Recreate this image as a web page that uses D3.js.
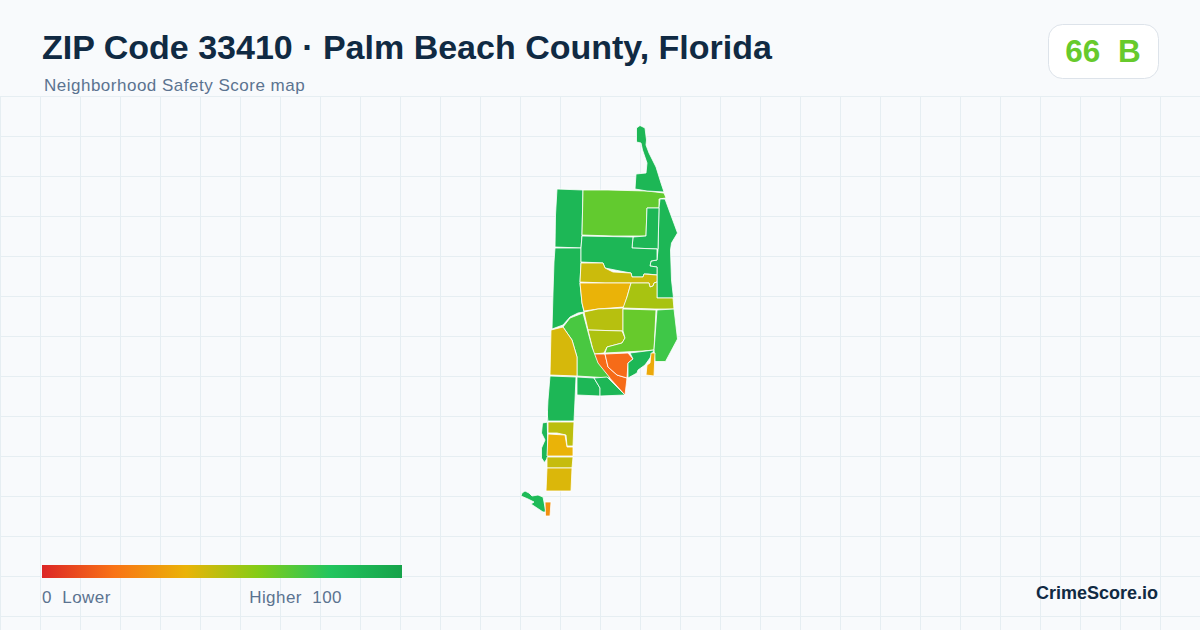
<!DOCTYPE html>
<html><head><meta charset="utf-8">
<style>
html,body{margin:0;padding:0;background:#f8fafc;}
svg{display:block;font-family:"Liberation Sans",Arial,sans-serif;}
text{white-space:pre;}
</style>
<script src="https://cdn.jsdelivr.net/npm/d3@7"></script>
</head><body><svg id="c" width="1200" height="630"></svg>
<script>
const titleText = "ZIP Code 33410 · Palm Beach County, Florida";
const subtitleText = "Neighborhood Safety Score map";
const overallScore = 66;
const overallGrade = "B";
const legendStops = [0, 20, 40, 60, 80, 100];
const legendColors = ["#dc2626", "#f97316", "#eab308", "#84cc16", "#22c55e", "#16a34a"];
const legendLabels = ["0  Lower", "Higher  100"];
const brand = "CrimeScore.io";

// neighbourhood scores
const blockScores = [88, 88, 67, 88, 88, 88, 88, 46, 40, 53, 50, 52, 66, 74, 18, 18, 88, 37, 72, 44, 88, 88, 88, 88, 49, 40, 47, 43, 86, 29];
// neighbourhood outlines in map units
const blockOutlines = [
 [[57,69],[83,70],[82,115],[81,128],[55,127],[55.5,95]],
 [[55,128],[81,128],[81,142],[80,163],[82,183],[84,192],[78,193],[70,197],[63,205],[52,209],[53,173],[54,142]],
 [[83,70],[108,70],[147,71],[164,73],[166,78],[159,79],[159,88],[147,88],[146,116],[113,116],[82,115]],
 [[140,5.5],[145,8],[146.5,20],[146,25],[149,33],[156,47],[161,63],[164,72],[147,71],[135,69],[136,54],[146,53],[147,43],[142.5,30],[141,23],[136.5,22],[136.5,8]],
 [[160,79],[165,79],[177.5,113],[171.5,123],[170.5,130],[171.5,160],[173.5,178],[157,178],[157,160],[157,147],[150,146],[151,141],[157,140],[158,130],[159,88]],
 [[147,88],[159,88],[158,129],[132,128],[133,117],[146,116]],
 [[82,116],[133,117],[132,128],[157,129],[157,140],[151,141],[150,146],[157,147],[157,155],[148,154],[144,154],[143,157],[132,157],[131,153],[120,151],[105,148],[103,143],[81,142],[81,128]],
 [[81,143],[103,143],[105,148],[113,152],[131,153],[132,157],[143,157],[144,154],[157,155],[157,162],[154,163],[153,166],[150,167],[149,163],[131,163],[105,163],[80,162]],
 [[80,163],[131,163],[127,177],[124,187],[98,189],[84,191],[82,183]],
 [[131,163],[149,163],[150,167],[153,166],[154,163],[157,162],[157,178],[173,178],[174,189],[155,189],[123,188],[127,177]],
 [[84,192],[98,189],[123,188],[123,211],[88,210]],
 [[88,210],[122,211],[125,218],[122,223],[107,227],[104,233],[94,234]],
 [[123,189],[156,190],[154,230],[143,231],[105,233],[107,227],[122,223],[125,218],[123,211]],
 [[157,190],[174,189],[177.5,219],[165.5,241.5],[155,241.5],[154,230]],
 [[94,234],[105,234],[108,247],[117,255],[127,258],[125,275],[107,255],[97,243]],
 [[105,234],[128,233],[133,239],[128,243],[127,258],[117,255],[108,247]],
 [[130,233],[154,230],[150,238],[145,245],[138,250],[137,253],[128,258],[128,243],[133,239]],
 [[151,233],[155,233],[154,256],[146,255],[147,245],[150,243]],
 [[63,207],[70,198],[83,193],[92,227],[98,243],[110,258],[77,256],[77,237],[72,220]],
 [[63,207],[72,220],[77,237],[77,256],[50,255],[51,210]],
 [[50,256],[76,257],[75,280],[74,301],[47,301],[48,280]],
 [[47,291],[48,302],[42.5,303],[41.5,313],[45,320],[41.5,328],[41.5,338],[44.5,342.5],[48,337]],
 [[77,257],[94,258],[100,268],[100,276],[77,275]],
 [[94,258],[107,257],[125,275],[100,276],[100,268]],
 [[48,302],[74,302],[73,326],[67,326],[66,315],[57,313],[48,313]],
 [[48,314],[65,315],[67,327],[73,327],[73,336],[47,336]],
 [[47,337],[73,337],[72,348],[47,348]],
 [[47,348],[72,348],[71,371],[46,371]],
 [[22,373],[25,371],[29,373],[32,376],[38,375],[43,377],[46,392],[43,392],[31,384],[34,382],[28,379],[21,376]],
 [[45,382],[51,382],[50,396],[45.5,396]]
];
const gridColumns = d3.range(0, 1201, 40);
const gridRows = d3.range(0, 14);

const svg = d3.select("#c");
const x = d3.scaleLinear().domain([0, 200]).range([500, 700]);
const y = d3.scaleLinear().domain([0, 400]).range([120, 520]);
const colour = d3.scaleLinear().domain(legendStops).range(legendColors).interpolate(d3.interpolateRgb);
const legendX = d3.scaleLinear().domain([0, 100]).range([42, 402]);
const rowY = d3.scaleLinear().domain([0, 1]).range([96.5, 136.5]);

svg.append("rect").attr("width", 1200).attr("height", 630).attr("fill", "#f8fafc");

const grid = svg.append("g").attr("stroke", "#e6eef2").attr("stroke-width", 1);
grid.selectAll("line.v").data(gridColumns).join("line").attr("class", "v")
  .attr("x1", d => d + 0.5).attr("x2", d => d + 0.5).attr("y1", 96.5).attr("y2", 630);
grid.selectAll("line.h").data(gridRows).join("line").attr("class", "h")
  .attr("x1", 0).attr("x2", 1200).attr("y1", d => rowY(d)).attr("y2", d => rowY(d));

const outline = d3.line().x(d => x(d[0])).y(d => y(d[1])).curve(d3.curveLinearClosed);
svg.append("g").selectAll("path").data(blockOutlines).join("path")
  .attr("d", outline)
  .attr("fill", (d, i) => colour(blockScores[i]))
  .attr("stroke", "#ffffff").attr("stroke-width", 0.8).attr("stroke-linejoin", "round");

svg.append("text").attr("x", 42).attr("y", 59).attr("font-size", 34).attr("font-weight", 700)
  .attr("fill", "#102a43").text(titleText);
svg.append("text").attr("x", 44).attr("y", 91).attr("font-size", 17).attr("letter-spacing", 0.5).attr("fill", "#5b7390").text(subtitleText);

svg.append("rect").attr("x", 1048.5).attr("y", 24.5).attr("width", 110).attr("height", 54).attr("rx", 14)
  .attr("fill", "#ffffff").attr("stroke", "#dde3ea");
svg.append("text").attr("x", 1103).attr("y", 62).attr("text-anchor", "middle").attr("font-size", 31.5)
  .attr("font-weight", 700).attr("fill", colour(overallScore)).text(overallScore + "  " + overallGrade);

const grad = svg.append("defs").append("linearGradient").attr("id", "lg");
grad.selectAll("stop").data(legendStops).join("stop")
  .attr("offset", d => d + "%").attr("stop-color", d => colour(d));
svg.append("rect").attr("x", legendX(0)).attr("y", 565).attr("width", legendX(100) - legendX(0)).attr("height", 13)
  .attr("fill", "url(#lg)");
svg.append("text").attr("x", 42).attr("y", 603).attr("font-size", 17).attr("letter-spacing", 0.45).attr("fill", "#5b7390").text(legendLabels[0]);
svg.append("text").attr("x", 342).attr("y", 603).attr("text-anchor", "end").attr("font-size", 17).attr("letter-spacing", 0.45).attr("fill", "#5b7390").text(legendLabels[1]);
svg.append("text").attr("x", 1158).attr("y", 599).attr("text-anchor", "end").attr("font-size", 18)
  .attr("font-weight", 700).attr("fill", "#102a43").text(brand);
</script></body></html>
